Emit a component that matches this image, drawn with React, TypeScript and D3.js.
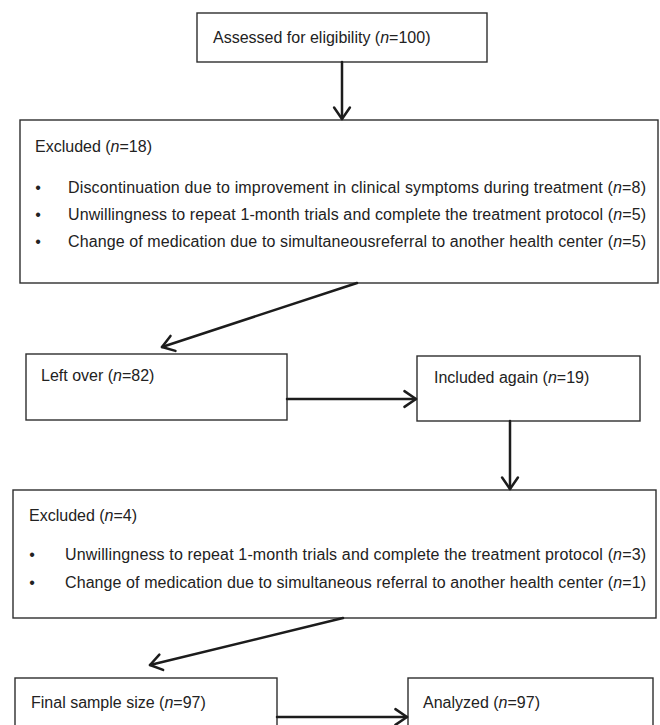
import React from 'react'
import * as d3 from 'd3'

// node labels and counts, top to bottom
const titles = ['Assessed for eligibility', 'Excluded', 'Left over', 'Included again', 'Excluded', 'Final sample size', 'Analyzed']
const counts = [100, 18, 82, 19, 4, 97, 97]

// reasons listed in the two exclusion boxes
const reasons1 = [
    'Discontinuation due to improvement in clinical symptoms during treatment',
    'Unwillingness to repeat 1-month trials and complete the treatment protocol',
    'Change of medication due to simultaneousreferral to another health center',
]
const reasons1N = [8, 5, 5]
const reasons2 = [
    'Unwillingness to repeat 1-month trials and complete the treatment protocol',
    'Change of medication due to simultaneous referral to another health center',
]
const reasons2N = [3, 1]

// layout: box rectangles [x0, y0, x1, y1] and text offsets
const boxes = [
    [197, 13, 487, 62],
    [20, 120, 658, 283],
    [26, 354, 287, 420],
    [417, 356, 640, 421],
    [13, 490, 656, 618],
    [15, 678, 277, 760],
    [408, 678, 653, 760],
]
const titlePad = [16, 15, 15, 17, 16, 16, 15]
const titleBase = [30, 32, 27, 27, 31, 30, 30]

// arrows [from, to]
const arrows = [
    [[342, 62], [342, 119]],
    [[357, 283], [162, 347]],
    [[287, 399], [416, 399]],
    [[510, 421], [510, 489]],
    [[343, 618], [150, 665]],
    [[277, 717], [407, 717]],
]

const line = d3.line()

const Arrow = ({from, to}) => {
    const ang = Math.atan2(to[1] - from[1], to[0] - from[0])
    const len = 14
    const spread = 0.6
    const h1 = [to[0] - len * Math.cos(ang - spread), to[1] - len * Math.sin(ang - spread)]
    const h2 = [to[0] - len * Math.cos(ang + spread), to[1] - len * Math.sin(ang + spread)]
    return (
        <g stroke="#1c1c1c" strokeWidth={2.5} fill="none" strokeLinecap="round" strokeLinejoin="round">
            <path d={line([from, to])} />
            <path d={line([h1, to, h2])} />
        </g>
    )
}

const Label = ({x, y, title, n, width}) => (
    <text x={x} y={y} textLength={width} lengthAdjust={width ? 'spacing' : undefined}>
        {title} (<tspan fontStyle="italic">n</tspan>={n})
    </text>
)

const Reasons = ({box, items, ns, first, step, bulletX, textX, textEnd}) => (
    <g>
        {items.map((r, i) => (
            <g key={i}>
                <text x={bulletX} y={box[1] + first + i * step} textAnchor="middle">•</text>
                <Label x={textX} y={box[1] + first + i * step} title={r} n={ns[i]} width={textEnd - textX} />
            </g>
        ))}
    </g>
)

export default function App() {
    const W = 660
    const H = 725
    return (
        <svg width={W} height={H} viewBox={`0 0 ${W} ${H}`}
            style={{position: 'absolute', left: 0, top: 0, background: '#fff'}}
            fontFamily="'Liberation Sans', Arial, sans-serif" fontSize={16} fill="#222">
            {boxes.map((b, i) => (
                <rect key={i} x={b[0]} y={b[1]} width={b[2] - b[0]} height={b[3] - b[1]}
                    fill="#fff" stroke="#2e2e2e" strokeWidth={1.4} />
            ))}
            {boxes.map((b, i) => (
                <Label key={'t' + i} x={b[0] + titlePad[i]} y={b[1] + titleBase[i]} title={titles[i]} n={counts[i]} />
            ))}
            <Reasons box={boxes[1]} items={reasons1} ns={reasons1N} first={73} step={27}
                bulletX={38} textX={68} textEnd={646} />
            <Reasons box={boxes[4]} items={reasons2} ns={reasons2N} first={70} step={28}
                bulletX={32} textX={65} textEnd={646} />
            {arrows.map((a, i) => <Arrow key={i} from={a[0]} to={a[1]} />)}
        </svg>
    )
}
